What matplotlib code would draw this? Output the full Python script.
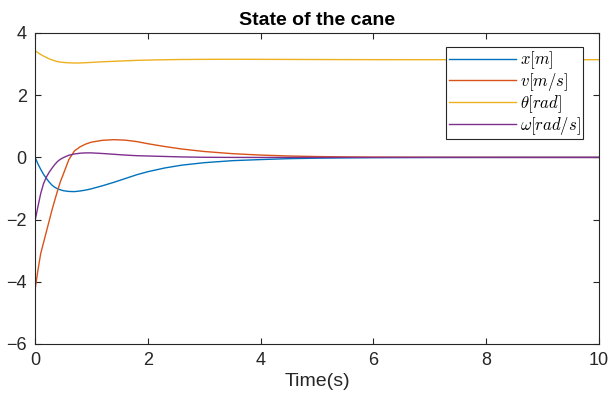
import matplotlib
matplotlib.use("Agg")
import matplotlib.pyplot as plt

plt.rcParams["font.family"] = ["Liberation Sans", "DejaVu Sans"]
plt.rcParams["mathtext.fontset"] = "cm"

# Simulation time samples (s)
t = [0, 0.005, 0.05, 0.1, 0.15, 0.2, 0.25, 0.3, 0.35, 0.4, 0.45, 0.5, 0.6, 0.7,
     0.8, 0.9, 1.0, 1.2, 1.4, 1.6, 1.8, 2.0, 2.3, 2.6, 3.0, 3.5, 4.0, 4.5, 5.0,
     5.5, 6.0, 7.0, 8.0, 9.0, 10.0]

# Cart position x [m]
x_pos = [0, -0.01, -0.2, -0.38, -0.54, -0.67, -0.79, -0.89, -0.96, -1.01, -1.04,
         -1.07, -1.095, -1.10, -1.08, -1.05, -1.01, -0.91, -0.80, -0.68, -0.56,
         -0.46, -0.34, -0.25, -0.17, -0.105, -0.07, -0.04, -0.025, -0.015,
         -0.008, -0.003, -0.001, 0, 0]

# Cart velocity v [m/s]
vel = [0, -4.2, -3.65, -3.1, -2.75, -2.4, -2.05, -1.7, -1.38, -1.07, -0.78,
       -0.55, -0.07, 0.21, 0.34, 0.43, 0.49, 0.55, 0.57, 0.555, 0.51, 0.44, 0.35,
       0.27, 0.19, 0.12, 0.075, 0.045, 0.027, 0.016, 0.009, 0.003, 0.001, 0, 0]

# Cane angle theta [rad]
theta = [3.43, 3.425, 3.37, 3.31, 3.26, 3.215, 3.17, 3.135, 3.105, 3.08, 3.065,
         3.055, 3.04, 3.035, 3.037, 3.045, 3.055, 3.075, 3.09, 3.105, 3.12, 3.13,
         3.14, 3.148, 3.153, 3.155, 3.153, 3.15, 3.147, 3.145, 3.143, 3.142,
         3.1416, 3.1416, 3.1416]

# Cane angular velocity omega [rad/s]
omega = [0, -2.0, -1.6, -1.17, -0.85, -0.64, -0.48, -0.35, -0.23, -0.13, -0.06,
         -0.01, 0.07, 0.11, 0.135, 0.145, 0.145, 0.125, 0.1, 0.075, 0.055, 0.045,
         0.03, 0.015, 0.004, 0, -0.002, 0, 0, 0, 0, 0, 0, 0, 0]

labels = [r"$x[m]$", r"$v[m/s]$", r"$\theta[rad]$", r"$\omega[rad/s]$"]
colors = ["#0072BD", "#D95319", "#EDB120", "#7E2F8E"]
series = [x_pos, vel, theta, omega]

fig = plt.figure(figsize=(6.09, 4.03), dpi=100)
ax = fig.add_axes([35 / 609, 1 - 344 / 403, 564 / 609, 311 / 403])

for y, c, lab in zip(series, colors, labels):
    ax.plot(t, y, color=c, linewidth=1.0, label=lab)

ax.set_xlim(0, 10)
ax.set_ylim(-6, 4)
ax.set_xticks([0, 2, 4, 6, 8, 10])
ax.set_yticks([-6, -4, -2, 0, 2, 4])

axis_color = "#262626"
for sp in ax.spines.values():
    sp.set_color(axis_color)
    sp.set_linewidth(0.8)
ax.tick_params(direction="in", length=4, width=0.8, colors=axis_color,
               labelsize=13, top=True, right=True, pad=6)

ax.set_title("State of the cane", fontsize=14, fontweight="bold", pad=6)
ax.set_xlabel("Time(s)", fontsize=14, color=axis_color, labelpad=3)

leg = ax.legend(loc="upper right", bbox_to_anchor=((583 - 35) / 564, 1 - 14 / 311),
                borderaxespad=0, fontsize=12, handlelength=4.0, handletextpad=0.25,
                labelspacing=0.0, borderpad=0.15, fancybox=False, framealpha=1,
                edgecolor=axis_color)
leg.get_frame().set_linewidth(0.8)

fig.savefig("out.png", dpi=100)
